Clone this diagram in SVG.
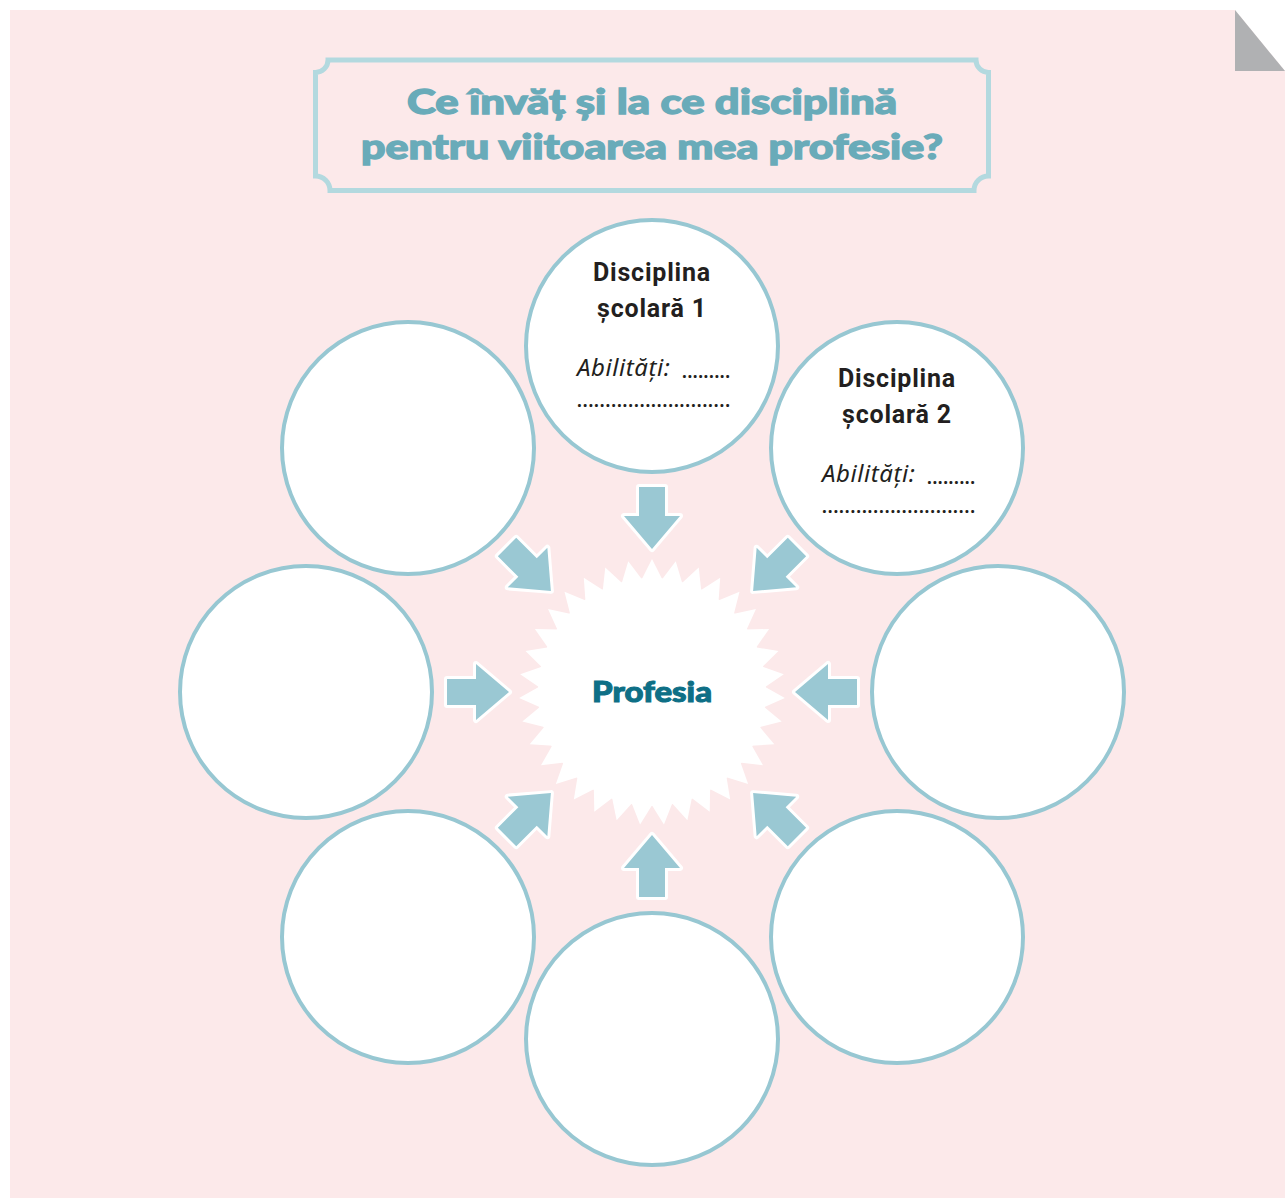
<svg xmlns="http://www.w3.org/2000/svg" xmlns:xlink="http://www.w3.org/1999/xlink" width="1285" height="1199" viewBox="0 0 1285 1199">
<style>
.page{fill:#fce9ea}
.ring{fill:#ffffff;stroke:#97c7d2;stroke-width:4}
.arrow{fill:#9ac8d3;stroke:#ffffff;stroke-width:6;stroke-linejoin:round;paint-order:stroke}
.frame{fill:none;stroke:#b3d9df;stroke-width:5}
.title{font-family:Lato,"Open Sans","Liberation Sans",sans-serif;font-weight:900;font-size:34px;fill:#69abb9;stroke:#69abb9;stroke-width:1.3;text-anchor:middle}
.head{font-family:Roboto,"Liberation Sans",sans-serif;font-weight:700;font-size:25px;letter-spacing:0.8px;fill:#231f20;text-anchor:middle}
.abil{font-family:"Noto Sans","Open Sans",sans-serif;font-style:italic;font-size:24px;fill:#231f20}
.dots{font-family:"Noto Sans",sans-serif;font-weight:700;font-size:17px;fill:#231f20}
.prof{font-family:Lato,"Open Sans","Liberation Sans",sans-serif;font-weight:900;font-size:28px;fill:#0e6f86;stroke:#0e6f86;stroke-width:1;text-anchor:middle}
</style>
<defs>
<path id="arr" d="M -13 -205 L 13 -205 L 13 -176 L 28 -176 L 0 -143 L -28 -176 L -13 -176 Z"/>
<polygon id="spike" points="0,-133 -10.6,-112 10.6,-112" fill="#ffffff"/>
</defs>
<g id="background">
<polygon class="page" points="10,10 1235,10 1285,71 1285,1198 10,1198"/>
<polygon points="1235,10 1285,71 1235,71" fill="#b0b1b3"/>
</g>
<g id="title">
<path class="frame" d="M 328 60 L 976 60 A 12.5 12.5 0 0 0 988.5 72.5 L 988.5 176 A 14.5 14.5 0 0 0 974 190.5 L 330 190.5 A 14.5 14.5 0 0 0 315.5 176 L 315.5 72.5 A 12.5 12.5 0 0 0 328 60 Z"/>
<text class="title" x="652" y="114" textLength="490" lengthAdjust="spacingAndGlyphs">Ce învăț și la ce disciplină</text>
<text class="title" x="652" y="159" textLength="582" lengthAdjust="spacingAndGlyphs">pentru viitoarea mea profesie?</text>
</g>
<g id="connectors">
<use xlink:href="#arr" class="arrow" transform="translate(652 692) rotate(0)"/>
<use xlink:href="#arr" class="arrow" transform="translate(652 692) rotate(45)"/>
<use xlink:href="#arr" class="arrow" transform="translate(652 692) rotate(90)"/>
<use xlink:href="#arr" class="arrow" transform="translate(652 692) rotate(135)"/>
<use xlink:href="#arr" class="arrow" transform="translate(652 692) rotate(180)"/>
<use xlink:href="#arr" class="arrow" transform="translate(652 692) rotate(225)"/>
<use xlink:href="#arr" class="arrow" transform="translate(652 692) rotate(270)"/>
<use xlink:href="#arr" class="arrow" transform="translate(652 692) rotate(315)"/>
</g>
<g id="profesia">
<g transform="translate(652 692)">
<circle r="114" fill="#ffffff"/>
<use xlink:href="#spike" transform="rotate(0)"/>
<use xlink:href="#spike" transform="rotate(10.286)"/>
<use xlink:href="#spike" transform="rotate(20.571)"/>
<use xlink:href="#spike" transform="rotate(30.857)"/>
<use xlink:href="#spike" transform="rotate(41.143)"/>
<use xlink:href="#spike" transform="rotate(51.429)"/>
<use xlink:href="#spike" transform="rotate(61.714)"/>
<use xlink:href="#spike" transform="rotate(72)"/>
<use xlink:href="#spike" transform="rotate(82.286)"/>
<use xlink:href="#spike" transform="rotate(92.571)"/>
<use xlink:href="#spike" transform="rotate(102.857)"/>
<use xlink:href="#spike" transform="rotate(113.143)"/>
<use xlink:href="#spike" transform="rotate(123.429)"/>
<use xlink:href="#spike" transform="rotate(133.714)"/>
<use xlink:href="#spike" transform="rotate(144)"/>
<use xlink:href="#spike" transform="rotate(154.286)"/>
<use xlink:href="#spike" transform="rotate(164.571)"/>
<use xlink:href="#spike" transform="rotate(174.857)"/>
<use xlink:href="#spike" transform="rotate(185.143)"/>
<use xlink:href="#spike" transform="rotate(195.429)"/>
<use xlink:href="#spike" transform="rotate(205.714)"/>
<use xlink:href="#spike" transform="rotate(216)"/>
<use xlink:href="#spike" transform="rotate(226.286)"/>
<use xlink:href="#spike" transform="rotate(236.571)"/>
<use xlink:href="#spike" transform="rotate(246.857)"/>
<use xlink:href="#spike" transform="rotate(257.143)"/>
<use xlink:href="#spike" transform="rotate(267.429)"/>
<use xlink:href="#spike" transform="rotate(277.714)"/>
<use xlink:href="#spike" transform="rotate(288)"/>
<use xlink:href="#spike" transform="rotate(298.286)"/>
<use xlink:href="#spike" transform="rotate(308.571)"/>
<use xlink:href="#spike" transform="rotate(318.857)"/>
<use xlink:href="#spike" transform="rotate(329.143)"/>
<use xlink:href="#spike" transform="rotate(339.429)"/>
<use xlink:href="#spike" transform="rotate(349.714)"/>
</g>
<text class="prof" x="652" y="702" textLength="120" lengthAdjust="spacingAndGlyphs">Profesia</text>
</g>
<g id="disciplina1">
<circle class="ring" cx="652" cy="346" r="126"/>
<text class="head" x="652" y="281">Disciplina</text>
<text class="head" x="652" y="317">școlară 1</text>
<text class="abil" x="577" y="376" textLength="93" lengthAdjust="spacing">Abilități:</text>
<text class="dots" x="682" y="378" textLength="48" lengthAdjust="spacing">.........</text>
<text class="dots" x="577" y="407" textLength="153" lengthAdjust="spacing">...........................</text>
</g>
<g id="disciplina2">
<circle class="ring" cx="897" cy="448" r="126"/>
<text class="head" x="897" y="387">Disciplina</text>
<text class="head" x="897" y="423">școlară 2</text>
<text class="abil" x="822" y="482" textLength="93" lengthAdjust="spacing">Abilități:</text>
<text class="dots" x="927" y="484" textLength="48" lengthAdjust="spacing">.........</text>
<text class="dots" x="822" y="513" textLength="153" lengthAdjust="spacing">...........................</text>
</g>
<g id="circle-top-left"><circle class="ring" cx="408" cy="448" r="126"/></g>
<g id="circle-left"><circle class="ring" cx="306" cy="692" r="126"/></g>
<g id="circle-right"><circle class="ring" cx="998" cy="692" r="126"/></g>
<g id="circle-bottom-left"><circle class="ring" cx="408" cy="937" r="126"/></g>
<g id="circle-bottom-right"><circle class="ring" cx="897" cy="937" r="126"/></g>
<g id="circle-bottom"><circle class="ring" cx="652" cy="1039" r="126"/></g>
</svg>
